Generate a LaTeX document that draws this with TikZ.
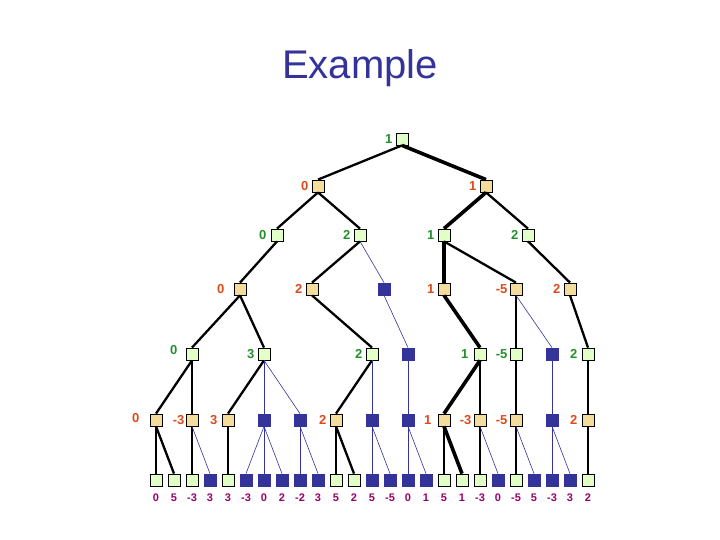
\documentclass[tikz,border=0pt]{standalone}
\usepackage{fontspec}
\setmainfont{Liberation Sans}
\begin{document}
\begin{tikzpicture}[x=1pt,y=-1pt,
  box/.style={draw=black,line width=0.8pt,minimum size=12pt,inner sep=0pt},
  gbox/.style={box,fill=lgreen},
  tbox/.style={box,fill=ltan},
  bbox/.style={draw=nblue,fill=nblue,line width=0.8pt,minimum size=12pt,inner sep=0pt},
  glab/.style={text=dgreen,font=\bfseries\fontsize{13}{13}\selectfont,inner sep=0pt},
  rlab/.style={text=rred,font=\bfseries\fontsize{13}{13}\selectfont,inner sep=0pt},
  leaflab/.style={text=lpurple,font=\bfseries\fontsize{11}{11}\selectfont,inner sep=0pt},
  thick edge/.style={line width=3.6pt},
  norm edge/.style={line width=2.3pt},
  thin edge/.style={line width=0.6pt,draw=nblue},
  label distance=3pt]
\definecolor{lgreen}{HTML}{E2FFC8}
\definecolor{ltan}{HTML}{F3DC9C}
\definecolor{nblue}{HTML}{333399}
\definecolor{dgreen}{HTML}{22902A}
\definecolor{rred}{HTML}{DD4A1A}
\definecolor{lpurple}{HTML}{990066}
\useasboundingbox (0,0) rectangle (720,540);
\node[text=nblue,font=\fontsize{40}{40}\selectfont] (title) at (360,68) {Example};
% level 0
\node[gbox,label={[glab]left:1}] (r) at (402,139) {};
% level 1
\node[tbox,label={[rlab]left:0}] (a) at (318,186) {};
\node[tbox,label={[rlab]left:1}] (b) at (486,186) {};
% level 2
\node[gbox,label={[glab,label distance=4pt]left:0}] (c1) at (277,235) {};
\node[gbox,label={[glab]left:2}] (c2) at (360,235) {};
\node[gbox,label={[glab]left:1}] (c3) at (444,235) {};
\node[gbox,label={[glab]left:2}] (c4) at (528,235) {};
% level 3
\node[tbox,label={[rlab,label distance=9pt]left:0}] (d1) at (240,289) {};
\node[tbox,label={[rlab]left:2}] (d2) at (312,289) {};
\node[bbox] (d3) at (384,289) {};
\node[tbox,label={[rlab]left:1}] (d4) at (444,289) {};
\node[tbox,label={[rlab,label distance=2pt]left:-5}] (d5) at (516,289) {};
\node[tbox,label={[rlab]left:2}] (d6) at (570,289) {};
% level 4
\node[gbox,label={[glab,label distance=8pt,yshift=4pt]left:0}] (e1) at (192,354) {};
\node[gbox,label={[glab]left:3}] (e2) at (264,354) {};
\node[gbox,label={[glab]left:2}] (e3) at (372,354) {};
\node[bbox] (e4) at (408,354) {};
\node[gbox,label={[glab,label distance=5pt]left:1}] (e5) at (480,354) {};
\node[gbox,label={[glab,label distance=2pt]left:-5}] (e6) at (516,354) {};
\node[bbox] (e7) at (552,354) {};
\node[gbox,label={[glab,label distance=4pt]left:2}] (e8) at (588,354) {};
% level 5
\node[tbox,label={[rlab,label distance=10pt,yshift=2pt]left:0}] (f0) at (156,420) {};
\node[tbox,label={[rlab,label distance=1pt]left:-3}] (f1) at (192,420) {};
\node[tbox,label={[rlab,label distance=4pt]left:3}] (f2) at (228,420) {};
\node[bbox] (f3) at (264,420) {};
\node[bbox] (f4) at (300,420) {};
\node[tbox,label={[rlab]left:2}] (f5) at (336,420) {};
\node[bbox] (f6) at (372,420) {};
\node[bbox] (f7) at (408,420) {};
\node[tbox,label={[rlab,label distance=6pt]left:1}] (f8) at (444,420) {};
\node[tbox,label={[rlab,label distance=2pt]left:-3}] (f9) at (480,420) {};
\node[tbox,label={[rlab,label distance=2pt]left:-5}] (f10) at (516,420) {};
\node[bbox] (f11) at (552,420) {};
\node[tbox,label={[rlab,label distance=4pt]left:2}] (f12) at (588,420) {};
% leaves
\foreach \i/\s/\v in {0/gbox/0,1/gbox/5,2/gbox/-3,3/bbox/3,4/gbox/3,5/bbox/-3,6/bbox/0,7/bbox/2,8/bbox/-2,9/bbox/3,10/gbox/5,11/gbox/2,12/bbox/5,13/bbox/-5,14/bbox/0,15/bbox/1,16/gbox/5,17/gbox/1,18/gbox/-3,19/bbox/0,20/gbox/-5,21/bbox/5,22/bbox/-3,23/bbox/3,24/gbox/2}{
  \node[\s] (g\i) at (156+18*\i,480) {};
  \node[leaflab] (v\i) at (156+18*\i,498) {\v};
}
% edges
\foreach \p/\c in {r/b,b/c3,c3/d4,d4/e5,e5/f8,f8/g17}
  \draw[thick edge] (\p.south) -- (\c.north);
\foreach \p/\c in {r/a,a/c1,a/c2,b/c4,c1/d1,c2/d2,c3/d5,c4/d6,d1/e1,d1/e2,d2/e3,d5/e6,d6/e8,e1/f0,e1/f1,e2/f2,e3/f5,e5/f9,e6/f10,e8/f12,f0/g0,f0/g1,f1/g2,f2/g4,f5/g10,f5/g11,f8/g16,f9/g18,f10/g20,f12/g24}
  \draw[norm edge] (\p.south) -- (\c.north);
\foreach \p/\c in {c2/d3,d3/e4,d5/e7,e2/f3,e2/f4,e3/f6,e4/f7,e7/f11,f1/g3,f3/g5,f3/g6,f3/g7,f4/g8,f4/g9,f6/g12,f6/g13,f7/g14,f7/g15,f9/g19,f10/g21,f11/g22,f11/g23}
  \draw[thin edge] (\p.south) -- (\c.north);
\end{tikzpicture}
\end{document}
